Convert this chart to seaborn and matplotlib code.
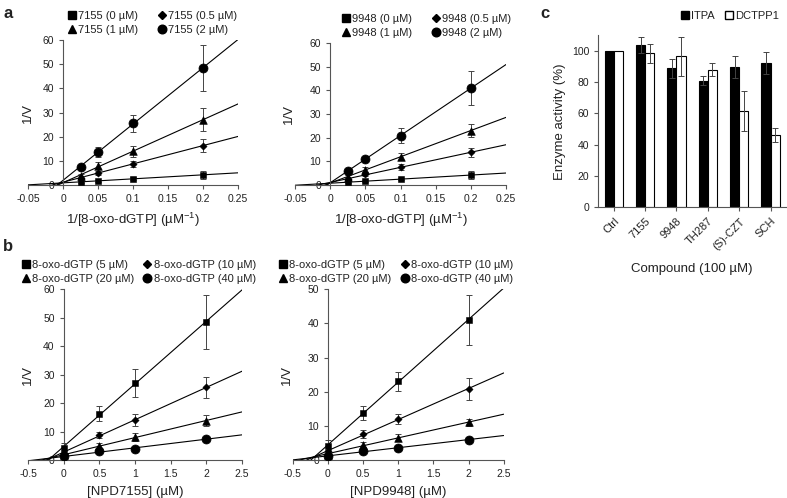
import numpy as np
import pandas as pd
import matplotlib.pyplot as plt
import seaborn as sns
from matplotlib.lines import Line2D
from matplotlib.patches import Patch
from matplotlib.ticker import FuncFormatter

# 1/[8-oxo-dGTP] (uM^-1) and the inhibitor concentrations (uM)
inv_substrate = [0.025, 0.05, 0.1, 0.2]
inhibitor = [0, 0.5, 1, 2]
substrate_labels = ["5 µM", "10 µM", "20 µM", "40 µM"]
inhibitor_labels = ["0 µM", "0.5 µM", "1 µM", "2 µM"]
markers = ["s", "D", "^", "o"]
marker_sizes = {"s": 24, "D": 14, "^": 30, "o": 42}
legend_sizes = {"s": 5.5, "D": 4.2, "^": 6.0, "o": 6.2}

# 1/V, rows = inhibitor conc, cols = 1/[S]
v7155 = [[1.3, 1.7, 2.6, 4.2],
         [3.0, 5.0, 8.8, 16.3],
         [3.8, 8.0, 14.0, 27.0],
         [7.5, 13.8, 25.5, 48.5]]
e7155 = [[0.4, 0.5, 0.6, 1.8],
         [0.6, 1.0, 1.2, 2.7],
         [0.8, 1.5, 2.2, 4.8],
         [0.6, 2.0, 3.6, 9.5]]
v9948 = [[1.2, 1.6, 2.5, 4.2],
         [2.5, 4.5, 7.5, 13.8],
         [3.5, 6.5, 12.0, 23.0],
         [6.0, 11.0, 20.8, 41.0]]
e9948 = [[0.4, 0.4, 0.5, 1.8],
         [0.5, 0.7, 1.2, 2.0],
         [0.8, 1.0, 1.4, 2.8],
         [0.7, 1.0, 3.2, 7.3]]

# panel c
compounds = ["Ctrl", "7155", "9948", "TH287", "(S)-CZT", "SCH"]
itpa = [100, 104, 89, 81, 90, 92.5]
itpa_err = [0, 5, 6, 3, 7, 7]
dctpp1 = [100, 98.5, 96.5, 88, 61.5, 46]
dctpp1_err = [0, 6, 12.5, 4, 13, 4.5]

sns.set_style("ticks")
plt.rcParams["font.family"] = ["Liberation Sans", "DejaVu Sans"]
plt.rcParams["mathtext.fontset"] = "custom"
plt.rcParams["mathtext.rm"] = "Liberation Sans"
plt.rcParams["mathtext.default"] = "regular"
plt.rcParams["text.color"] = "#222222"
plt.rcParams["axes.labelcolor"] = "#222222"
plt.rcParams["xtick.color"] = "#555555"
plt.rcParams["ytick.color"] = "#555555"
plt.rcParams["xtick.labelcolor"] = "#222222"
plt.rcParams["ytick.labelcolor"] = "#222222"

fig = plt.figure(figsize=(7.87, 4.98), dpi=100)


def fmt(v, pos):
    return f"{v:g}"


def kinetic_panel(rect, x, Y, E, labels, xlim, xticks, ylim, yticks, xlabel,
                  ylab_x, leg_x, colsp):
    ax = fig.add_axes(rect)
    ax.set_xlim(xlim)
    ax.set_ylim(ylim)
    handles = []
    for i, (y, e) in enumerate(zip(Y, E)):
        sns.regplot(x=np.array(x), y=np.array(y), ax=ax, scatter=False, ci=None,
                    truncate=False, color="black", line_kws={"lw": 0.8, "zorder": 2})
        ax.errorbar(x, y, yerr=e, fmt="none", ecolor="#444444", elinewidth=0.7,
                    capsize=2.5, capthick=0.7, zorder=3)
        sns.scatterplot(x=x, y=y, marker=markers[i], s=marker_sizes[markers[i]],
                        color="black", edgecolor="black", ax=ax, zorder=4)
        handles.append(Line2D([], [], ls="none", marker=markers[i], color="black",
                              markersize=legend_sizes[markers[i]]))
    ax.set_xlim(xlim)
    ax.set_ylim(ylim)
    ax.set_xticks(xticks)
    ax.set_yticks(yticks)
    ax.xaxis.set_major_formatter(FuncFormatter(fmt))
    ax.spines["left"].set_position(("data", 0))
    ax.spines["left"].set_bounds(ylim[0], ylim[1])
    for s in ["top", "right"]:
        ax.spines[s].set_visible(False)
    for s in ["left", "bottom"]:
        ax.spines[s].set_color("#555555")
        ax.spines[s].set_linewidth(0.8)
    ax.tick_params(labelsize=7.5, width=0.8, length=3)
    ax.set_xlabel(xlabel, fontsize=9.5, labelpad=5)
    ax.set_ylabel("1/V", fontsize=9.5)
    ax.yaxis.set_label_coords(ylab_x, 0.5)
    order = [0, 2, 1, 3]
    ax.legend([handles[k] for k in order], [labels[k] for k in order], ncol=2,
              loc="lower right", bbox_to_anchor=(leg_x, 1.0), frameon=False,
              fontsize=8, handletextpad=0.05, columnspacing=colsp, labelspacing=0.3,
              borderaxespad=0.1, handlelength=1.0)
    return ax


# panel a: Lineweaver-Burk
kinetic_panel([0.0356, 0.6285, 0.267, 0.291], inv_substrate, v7155, e7155,
              ["7155 (" + l + ")" for l in inhibitor_labels],
              (-0.05, 0.25), np.arange(-0.05, 0.26, 0.05), (0, 60), range(0, 61, 10),
              "1/[8-oxo-dGTP] (µM$^{-1}$)", 0.03, 1.02, 1.6)
kinetic_panel([0.375, 0.6285, 0.268, 0.285], inv_substrate, v9948, e9948,
              ["9948 (" + l + ")" for l in inhibitor_labels],
              (-0.05, 0.25), np.arange(-0.05, 0.26, 0.05), (0, 60), range(0, 61, 10),
              "1/[8-oxo-dGTP] (µM$^{-1}$)", 0.0, 1.05, 1.6)

# panel b: Dixon plots, series by substrate (5 uM = highest 1/[S])
kinetic_panel([0.0356, 0.0763, 0.272, 0.343], inhibitor,
              [list(col) for col in np.array(v7155).T[::-1]],
              [list(col) for col in np.array(e7155).T[::-1]],
              ["8-oxo-dGTP (" + l + ")" for l in substrate_labels],
              (-0.5, 2.5), np.arange(-0.5, 2.6, 0.5), (0, 60), range(0, 61, 10),
              "[NPD7155] (µM)", 0.03, 1.09, 0.7)
kinetic_panel([0.372, 0.0763, 0.268, 0.343], inhibitor,
              [list(col) for col in np.array(v9948).T[::-1]],
              [list(col) for col in np.array(e9948).T[::-1]],
              ["8-oxo-dGTP (" + l + ")" for l in substrate_labels],
              (-0.5, 2.5), np.arange(-0.5, 2.6, 0.5), (0, 50), range(0, 51, 10),
              "[NPD9948] (µM)", 0.0, 1.07, 0.7)

# panel c: selectivity bars
df = pd.DataFrame({
    "compound": compounds * 2,
    "activity": itpa + dctpp1,
    "enzyme": ["ITPA"] * len(compounds) + ["DCTPP1"] * len(compounds),
})
axc = fig.add_axes([0.760, 0.584, 0.239, 0.345])
sns.barplot(data=df, x="compound", y="activity", hue="enzyme",
            palette=["black", "white"], edgecolor="black", linewidth=0.8,
            width=0.58, errorbar=None, legend=False, ax=axc)
for cont, errs in zip(axc.containers, [itpa_err, dctpp1_err]):
    for bar, e in zip(cont, errs):
        if e > 0:
            axc.errorbar(bar.get_x() + bar.get_width() / 2, bar.get_height(), yerr=e,
                         fmt="none", ecolor="#444444", elinewidth=0.7, capsize=2.5,
                         capthick=0.7, zorder=3)
axc.set_xlim(-0.5, len(compounds) - 0.5)
axc.set_ylim(0, 110)
axc.set_yticks(range(0, 101, 20))
for s in ["top", "right"]:
    axc.spines[s].set_visible(False)
for s in ["left", "bottom"]:
    axc.spines[s].set_color("#555555")
    axc.spines[s].set_linewidth(0.8)
axc.tick_params(labelsize=7.5, width=0.8, length=3)
plt.setp(axc.get_xticklabels(), rotation=45, ha="right", rotation_mode="anchor",
         fontsize=8)
axc.set_xlabel("Compound (100 µM)", fontsize=9.5, labelpad=8)
axc.set_ylabel("Enzyme activity (%)", fontsize=9.5)
axc.legend([Patch(facecolor="black", edgecolor="black"),
            Patch(facecolor="white", edgecolor="black")], ["ITPA", "DCTPP1"],
           ncol=2, loc="lower right", bbox_to_anchor=(0.99, 1.05), frameon=False,
           fontsize=8, handlelength=0.7, handleheight=0.7, handletextpad=0.15,
           columnspacing=1.0, borderaxespad=0.1)

# panel letters
fig.text(0.004, 0.972, "a", fontsize=12, fontweight="bold", va="center")
fig.text(0.004, 0.505, "b", fontsize=12, fontweight="bold", va="center")
fig.text(0.686, 0.972, "c", fontsize=12, fontweight="bold", va="center")

fig.savefig("out.png", dpi=100)
